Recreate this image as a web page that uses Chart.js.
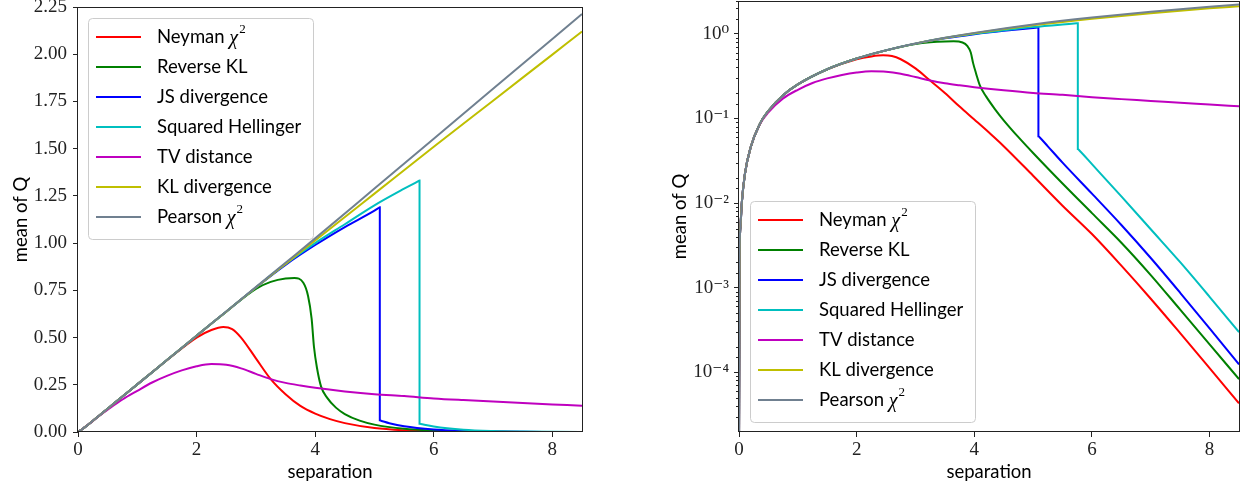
<!DOCTYPE html>
<html lang="en">
<head>
<meta charset="UTF-8">
<title>mean of Q vs separation</title>
<script src="https://cdn.jsdelivr.net/npm/chart.js@4.4.1/dist/chart.umd.min.js"></script>
<style>
    body { margin: 0; background: #fff; }
    .wrap { position: relative; width: 1247px; height: 488px; }
    .panel { position: absolute; top: 0; height: 488px; }
    #left { left: 0; width: 600px; }
    #right { left: 640px; width: 607px; }
</style>
</head>
<body>
<div class="wrap">
    <div class="panel" id="left"><canvas id="linChart"></canvas></div>
    <div class="panel" id="right"><canvas id="logChart"></canvas></div>
</div>
<script>
// series names / colours (legend order)
const names = ['Neyman χ²', 'Reverse KL', 'JS divergence', 'Squared Hellinger', 'TV distance', 'KL divergence', 'Pearson χ²'];
const colors = ['#ff0000', '#008000', '#0000ff', '#00bfbf', '#bf00bf', '#bfbf00', '#708090'];

// values: separation (s) and mean of Q (q)
// a repeated s value is a vertical jump
const neymanS = [0.00005, 0.01, 0.025, 0.05, 0.1, 0.2, 0.35, 0.5, 0.75, 1, 1.5, 2, 2.25, 2.45, 2.6, 2.75, 3, 3.25, 3.5, 3.75, 4, 4.25, 4.5, 5, 5.5, 6, 6.5, 7, 7.5, 8, 8.5];
const neymanQ = [1.2e-5, 0.0022, 0.0053, 0.0105, 0.022, 0.046, 0.085, 0.123, 0.188, 0.252, 0.38, 0.5, 0.54, 0.556, 0.545, 0.5, 0.39, 0.28, 0.2, 0.138, 0.097, 0.068, 0.047, 0.021, 0.0093, 0.0043, 0.00182, 0.00074, 0.00029, 0.000112, 0.000043];

const revklS = [0.00005, 0.01, 0.025, 0.05, 0.1, 0.2, 0.35, 0.5, 0.75, 1, 1.5, 2, 2.5, 3, 3.25, 3.5, 3.65, 3.8, 3.88, 3.94, 3.98, 4.03, 4.1, 4.2, 4.35, 4.5, 4.75, 5, 5.5, 6, 6.5, 7, 7.5, 8, 8.5];
const revklQ = [1.2e-5, 0.0022, 0.0053, 0.0105, 0.022, 0.046, 0.085, 0.123, 0.188, 0.252, 0.381, 0.51, 0.637, 0.758, 0.795, 0.813, 0.815, 0.79, 0.72, 0.6, 0.45, 0.34, 0.24, 0.182, 0.129, 0.095, 0.06, 0.039, 0.017, 0.0076, 0.0034, 0.00141, 0.00055, 0.000214, 0.000083];

const jsS = [0.00005, 0.01, 0.025, 0.05, 0.1, 0.2, 0.35, 0.5, 0.75, 1, 1.5, 2, 2.5, 3, 3.5, 4, 4.5, 5, 5.07, 5.09, 5.09, 5.11, 5.25, 5.5, 6, 6.5, 7, 7.5, 8, 8.5];
const jsQ = [1.2e-5, 0.0022, 0.0053, 0.0105, 0.022, 0.046, 0.085, 0.123, 0.188, 0.252, 0.381, 0.51, 0.637, 0.765, 0.885, 0.99, 1.085, 1.172, 1.186, 1.19, 0.0617, 0.06, 0.0468, 0.03, 0.0129, 0.0055, 0.00224, 0.00087, 0.00033, 0.000124];

const hellS = [0.00005, 0.01, 0.025, 0.05, 0.1, 0.2, 0.35, 0.5, 0.75, 1, 1.5, 2, 2.5, 3, 3.5, 4, 4.5, 5, 5.5, 5.74, 5.76, 5.76, 5.78, 6, 6.5, 7, 7.5, 8, 8.5];
const hellQ = [1.2e-5, 0.0022, 0.0053, 0.0105, 0.022, 0.046, 0.085, 0.123, 0.188, 0.252, 0.381, 0.51, 0.637, 0.765, 0.89, 1.0, 1.1, 1.2, 1.288, 1.328, 1.332, 0.0436, 0.0423, 0.0288, 0.012, 0.0049, 0.002, 0.00078, 0.000298];

const tvS = [0.00005, 0.01, 0.025, 0.05, 0.1, 0.2, 0.35, 0.5, 0.75, 1, 1.25, 1.5, 1.75, 2, 2.25, 2.5, 2.75, 3, 3.25, 3.5, 3.75, 4, 4.5, 5, 5.5, 6, 6.5, 7, 7.5, 8, 8.5];
const tvQ = [1.2e-5, 0.0022, 0.0053, 0.0105, 0.022, 0.046, 0.084, 0.118, 0.172, 0.218, 0.262, 0.297, 0.326, 0.348, 0.36, 0.356, 0.337, 0.308, 0.28, 0.26, 0.246, 0.234, 0.215, 0.2, 0.19, 0.178, 0.169, 0.161, 0.153, 0.146, 0.139];

const klS = [0.00005, 0.01, 0.025, 0.05, 0.1, 0.2, 0.35, 0.5, 0.75, 1, 1.5, 2, 2.5, 3, 3.5, 4, 5, 6, 7, 8, 8.5];
const klQ = [1.2e-5, 0.0022, 0.0053, 0.0105, 0.022, 0.046, 0.085, 0.123, 0.188, 0.252, 0.381, 0.51, 0.637, 0.765, 0.89, 1.014, 1.262, 1.51, 1.754, 1.998, 2.12];

const pearsonS = [0.00005, 0.01, 0.025, 0.05, 0.1, 0.2, 0.35, 0.5, 0.75, 1, 1.5, 2, 2.5, 3, 3.5, 4, 5, 6, 7, 8, 8.5];
const pearsonQ = [1.2e-5, 0.0022, 0.0053, 0.0105, 0.022, 0.046, 0.085, 0.123, 0.188, 0.252, 0.381, 0.51, 0.638, 0.767, 0.896, 1.025, 1.289, 1.553, 1.817, 2.081, 2.213];

const seriesS = [neymanS, revklS, jsS, hellS, tvS, klS, pearsonS];
const seriesQ = [neymanQ, revklQ, jsQ, hellQ, tvQ, klQ, pearsonQ];

const linTicks = [0, 0.25, 0.5, 0.75, 1, 1.25, 1.5, 1.75, 2, 2.25];
const xTicks = [0, 2, 4, 6, 8];

const SERIF = '"Liberation Serif", "DejaVu Serif", serif';
const SANS = 'Lato, "Open Sans", sans-serif';

function isPow10(v) {
    const l = Math.log10(v);
    return Math.abs(l - Math.round(l)) < 1e-6;
}
const sup = { '0': '⁰', '1': '¹', '2': '²', '3': '³', '4': '⁴', '5': '⁵', '-': '⁻' };
function powLabel(v) {
    const e = String(Math.round(Math.log10(v)));
    return '10' + e.split('').map(c => sup[c]).join('');
}

function buildDatasets() {
    return names.map((n, i) => ({
        label: n,
        data: seriesS[i].map((s, j) => ({ x: s, y: seriesQ[i][j] })),
        borderColor: colors[i],
        borderWidth: 2,
        pointRadius: 0,
        fill: false,
        cubicInterpolationMode: 'monotone',
        order: names.length - i
    }));
}

// full box around the axes
const framePlugin = {
    id: 'frame',
    afterDatasetsDraw(chart) {
        const { ctx, chartArea: a } = chart;
        ctx.save();
        ctx.strokeStyle = '#222';
        ctx.lineWidth = 1;
        ctx.strokeRect(Math.round(a.left) - 0.5, Math.round(a.top) + 0.5,
            Math.round(a.right - a.left) + 1, Math.round(a.bottom - a.top) - 1);
        ctx.restore();
    }
};

// short minor ticks on the log axis
const minorTickPlugin = {
    id: 'minorTicks',
    afterDraw(chart) {
        const s = chart.scales.y;
        if (s.type !== 'logarithmic') return;
        const ctx = chart.ctx;
        ctx.save();
        ctx.strokeStyle = '#222';
        ctx.lineWidth = 1;
        s.ticks.forEach(t => {
            if (isPow10(t.value)) return;
            const y = Math.round(s.getPixelForValue(t.value)) + 0.5;
            if (y < chart.chartArea.top || y > chart.chartArea.bottom - 1) return;
            ctx.beginPath();
            ctx.moveTo(chart.chartArea.left - 3, y);
            ctx.lineTo(chart.chartArea.left, y);
            ctx.stroke();
        });
        ctx.restore();
    }
};

function drawName(ctx, text, x, y) {
    ctx.fillStyle = '#000';
    ctx.textBaseline = 'middle';
    ctx.textAlign = 'left';
    if (text.endsWith('χ²')) {
        const base = text.slice(0, -2);
        ctx.font = '18.5px ' + SANS;
        ctx.fillText(base, x, y);
        let w = ctx.measureText(base).width;
        ctx.font = 'italic 20px ' + SERIF;
        ctx.fillText('χ', x + w, y + 2);
        w += ctx.measureText('χ').width;
        ctx.font = '13px ' + SERIF;
        ctx.fillText('2', x + w + 1, y - 7);
    } else {
        ctx.font = '18.5px ' + SANS;
        ctx.fillText(text, x, y);
    }
}

// matplotlib-like legend box inside the axes
const boxLegend = {
    id: 'boxLegend',
    afterDatasetsDraw(chart, args, opts) {
        const { ctx, chartArea: a } = chart;
        const w = 225, h = 221;
        const x0 = a.left + opts.dx;
        const y0 = opts.corner === 'top' ? a.top + opts.dy : a.bottom - opts.dy - h;
        ctx.save();
        ctx.beginPath();
        ctx.roundRect(x0 + 0.5, y0 + 0.5, w, h, 4);
        ctx.fillStyle = 'rgba(255,255,255,0.8)';
        ctx.fill();
        ctx.strokeStyle = '#cccccc';
        ctx.lineWidth = 1;
        ctx.stroke();
        chart.data.datasets.forEach((ds, i) => {
            const y = Math.round(y0 + 19 + i * 30);
            ctx.beginPath();
            ctx.moveTo(x0 + 8, y);
            ctx.lineTo(x0 + 53, y);
            ctx.strokeStyle = ds.borderColor;
            ctx.lineWidth = 2;
            ctx.stroke();
            drawName(ctx, ds.label, x0 + 69, y);
        });
        ctx.restore();
    }
};

function makeChart(id, isLog) {
    const yScale = isLog ? {
        type: 'logarithmic',
        min: 1.97e-5,
        max: 2.44,
        border: { display: false },
        grid: {
            drawOnChartArea: false,
            drawTicks: true,
            tickLength: 5,
            tickColor: c => (c.tick && isPow10(c.tick.value)) ? '#222' : 'rgba(0,0,0,0)'
        },
        ticks: {
            autoSkip: false,
            padding: 5,
            color: '#222',
            font: { family: SERIF, size: 19 },
            callback: v => isPow10(v) ? powLabel(v) : ''
        },
        title: { display: true, text: 'mean of Q', color: '#000', font: { family: SANS, size: 18.5 }, padding: { top: 29, bottom: 0 } },
        afterFit: s => { s.width = 99; s.paddingTop = 0; s.paddingBottom = 0; }
    } : {
        type: 'linear',
        min: 0,
        max: 2.25,
        afterBuildTicks: s => { s.ticks = linTicks.map(v => ({ value: v })); },
        border: { display: false },
        grid: { drawOnChartArea: false, drawTicks: true, tickLength: 5, tickColor: '#222' },
        ticks: {
            padding: 6,
            color: '#222',
            font: { family: SERIF, size: 19 },
            callback: v => Number(v).toFixed(2)
        },
        title: { display: true, text: 'mean of Q', color: '#000', font: { family: SANS, size: 18.5 }, padding: { top: 10, bottom: 0 } },
        afterFit: s => { s.width = 78; s.paddingTop = 0; s.paddingBottom = 0; }
    };

    return new Chart(document.getElementById(id), {
        type: 'line',
        data: { datasets: buildDatasets() },
        options: {
            responsive: true,
            maintainAspectRatio: false,
            animation: false,
            events: [],
            layout: { padding: isLog ? { top: 1, right: 8, left: 0, bottom: 0 } : { top: 7, right: 18, left: 0, bottom: 0 } },
            scales: {
                x: {
                    type: 'linear',
                    min: 0,
                    max: 8.5,
                    afterBuildTicks: s => { s.ticks = xTicks.map(v => ({ value: v })); },
                    border: { display: false },
                    grid: { drawOnChartArea: false, drawTicks: true, tickLength: 5, tickColor: '#222' },
                    ticks: { padding: 2, color: '#222', maxRotation: 0, font: { family: SERIF, size: 19 } },
                    title: { display: true, text: 'separation', color: '#000', font: { family: SANS, size: 18.5 }, padding: { top: 0, bottom: 5 } },
                    afterFit: s => { s.height = 56; s.paddingLeft = 0; s.paddingRight = 0; }
                },
                y: yScale
            },
            plugins: {
                legend: { display: false },
                tooltip: { enabled: false },
                boxLegend: isLog ? { corner: 'bottom', dx: 11, dy: 10 } : { corner: 'top', dx: 10, dy: 11 }
            }
        },
        plugins: [framePlugin, minorTickPlugin, boxLegend]
    });
}

makeChart('linChart', false);
makeChart('logChart', true);
</script>
</body>
</html>
